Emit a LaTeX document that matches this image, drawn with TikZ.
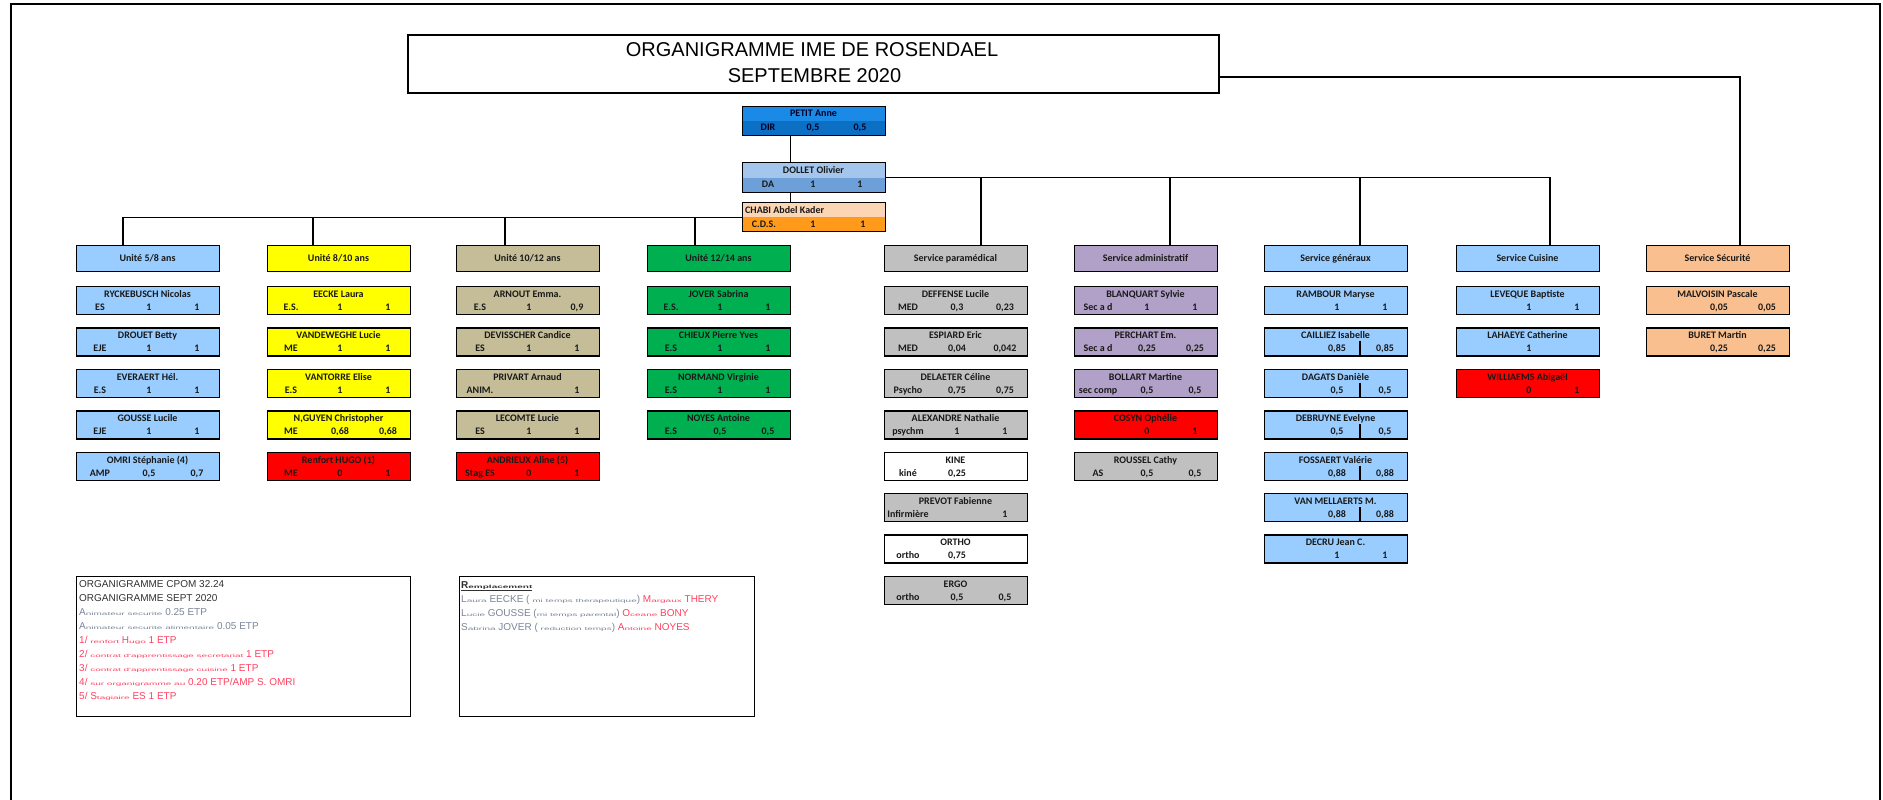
\documentclass[tikz,border=0pt]{standalone}
\usepackage{fontspec}
\usepackage{graphicx}
\setmainfont{Carlito}
\newfontfamily\arialf{Liberation Sans}
\usetikzlibrary{calc}
\definecolor{lblue}{HTML}{99CCFF}
\definecolor{yel}{HTML}{FFFF00}
\definecolor{tanc}{HTML}{C4BD97}
\definecolor{grn}{HTML}{00B050}
\definecolor{gry}{HTML}{C0C0C0}
\definecolor{purp}{HTML}{B1A0C7}
\definecolor{peach}{HTML}{FABF8F}
\definecolor{rd}{HTML}{FF0000}
\definecolor{dirtop}{HTML}{1A8AE6}
\definecolor{dirbot}{HTML}{0B6FC4}
\definecolor{datop}{HTML}{A4C6EC}
\definecolor{dabot}{HTML}{6D9FD8}
\definecolor{cdstop}{HTML}{FCD5B4}
\definecolor{cdsbot}{HTML}{FF9A1A}
\definecolor{notegray}{HTML}{7A8598}
\definecolor{notered}{HTML}{FF4060}
\definecolor{notedark}{HTML}{303030}
\newcommand{\sq}[1]{\scalebox{1}[0.45]{#1}}
\tikzset{
  pb/.style={draw=black, line width=1.3pt, minimum width=143pt, minimum height=28pt, inner sep=0pt, anchor=north west},
  hb/.style={pb, minimum height=26pt},
  txt/.style={font=\bfseries\fontsize{10}{11}\selectfont, inner sep=0pt, text=black!90, anchor=base},
  conn/.style={draw=black, line width=1.3pt},
  note/.style={font=\arialf\fontsize{10}{11}\selectfont, inner sep=0pt, anchor=base west},
  ttl/.style={font=\arialf\fontsize{20}{22}\selectfont, anchor=base, inner sep=0pt},
  twotone/.style n args={2}{path picture={
      \fill[#1] (path picture bounding box.north west) rectangle (path picture bounding box.east);
      \fill[#2] (path picture bounding box.west) rectangle (path picture bounding box.south east);}}
}
\newcommand{\pbox}[8]{%
  \node[pb, fill=#4] (#1) at (#2,{286+41.4*#3}) {};
  \node[txt] (#1n) at ($(#1.north west)+(71.5,11.5)$) {#5};
  \node[txt] (#1f) at ($(#1.north west)+(24,24.5)$) {#6};
  \node[txt] (#1a) at ($(#1.north west)+(73,24.5)$) {#7};
  \node[txt] (#1b) at ($(#1.north west)+(121,24.5)$) {#8};
}
\newcommand{\hdr}[5]{%
  \node[hb, fill=#3] (#1) at (#2,245) {};
  \node[txt] (#1t) at ($(#1.north west)+(71.5,16.5)$) {#4};
  \coordinate (#1in) at ($(#1.north west)+(#5,0)$);
}
\begin{document}
\begin{tikzpicture}[x=1pt,y=-1pt]
\useasboundingbox (0,0) rectangle (1883,800);
% page frame
\draw[line width=1.3pt] (11,800) -- (11,4) -- (1880,4) -- (1880,800);
% title
\node[draw=black, line width=1.5pt, minimum width=811pt, minimum height=58pt, inner sep=0pt] (title) at (813.5,64) {};
\node[ttl] (t1) at (812,57) {ORGANIGRAMME IME DE ROSENDAEL};
\node[ttl] (t2) at (814.5,83) {SEPTEMBRE 2020};
\coordinate (tout) at ($(title.east)+(0,13)$);
% direction
\node[draw=black, line width=1.3pt, minimum width=143pt, minimum height=29pt, inner sep=0pt, anchor=north west, twotone={dirtop}{dirbot}] (petit) at (742,106) {};
\node[txt, text=black!85!blue] (petitn) at ($(petit.north west)+(71.5,10.5)$) {PETIT Anne};
\node[txt, text=black!85!blue] (petitf) at ($(petit.north west)+(26,24.5)$) {DIR};
\node[txt, text=black!85!blue] (petita) at ($(petit.north west)+(71,24.5)$) {0,5};
\node[txt, text=black!85!blue] (petitb) at ($(petit.north west)+(118,24.5)$) {0,5};
\node[draw=black, line width=1.3pt, minimum width=143pt, minimum height=30pt, inner sep=0pt, anchor=north west, twotone={datop}{dabot}] (dollet) at (742,162) {};
\node[txt] (dolletn) at ($(dollet.north west)+(71.5,11)$) {DOLLET Olivier};
\node[txt] (dolletf) at ($(dollet.north west)+(26,25)$) {DA};
\node[txt] (dolleta) at ($(dollet.north west)+(71,25)$) {1};
\node[txt] (dolletb) at ($(dollet.north west)+(118,25)$) {1};
\node[draw=black, line width=1.3pt, minimum width=143pt, minimum height=29pt, inner sep=0pt, anchor=north west, twotone={cdstop}{cdsbot}] (chabi) at (742,202) {};
\node[txt, anchor=base west] (chabin) at ($(chabi.north west)+(3,11)$) {CHABI Abdel Kader};
\node[txt] (chabif) at ($(chabi.north west)+(22,25)$) {C.D.S.};
\node[txt] (chabia) at ($(chabi.north west)+(71,25)$) {1};
\node[txt] (chabib) at ($(chabi.north west)+(121,25)$) {1};
\draw[conn] ([xshift=-24pt]petit.south) -- ([xshift=-24pt]dollet.north);
\draw[conn] ([xshift=-24pt]dollet.south) -- ([xshift=-24pt]chabi.north);
% headers
\hdr{u1}{76}{lblue}{Unité 5/8 ans}{47}
\hdr{u2}{267}{yel}{Unité 8/10 ans}{46}
\hdr{u3}{456}{tanc}{Unité 10/12 ans}{49}
\hdr{u4}{647}{grn}{Unité 12/14 ans}{48}
\hdr{sp}{884}{gry}{Service paramédical}{97}
\hdr{sa}{1074}{purp}{Service administratif}{96}
\hdr{sg}{1264}{lblue}{Service généraux}{96}
\hdr{sc}{1456}{lblue}{Service Cuisine}{94}
\hdr{ss}{1646}{peach}{Service Sécurité}{94}
% connectors
\draw[conn] (u1in) |- (chabi.west);
\draw[conn] (u2in) -- (u2in |- chabi.west);
\draw[conn] (u3in) -- (u3in |- chabi.west);
\draw[conn] (u4in) -- (u4in |- chabi.west);
\draw[conn] (dollet.east) -| (scin);
\draw[conn] (spin) -- (spin |- dollet.east);
\draw[conn] (sain) -- (sain |- dollet.east);
\draw[conn] (sgin) -- (sgin |- dollet.east);
\draw[conn] (tout) -| (ssin);
% column 1
\pbox{a1}{76}{0}{lblue}{RYCKEBUSCH Nicolas}{ES}{1}{1}
\pbox{a2}{76}{1}{lblue}{DROUET Betty}{EJE}{1}{1}
\pbox{a3}{76}{2}{lblue}{EVERAERT Hél.}{E.S}{1}{1}
\pbox{a4}{76}{3}{lblue}{GOUSSE Lucile}{EJE}{1}{1}
\pbox{a5}{76}{4}{lblue}{OMRI Stéphanie (4)}{AMP}{0,5}{0,7}
% column 2
\pbox{b1}{267}{0}{yel}{EECKE Laura}{E.S.}{1}{1}
\pbox{b2}{267}{1}{yel}{VANDEWEGHE Lucie}{ME}{1}{1}
\pbox{b3}{267}{2}{yel}{VANTORRE Elise}{E.S}{1}{1}
\pbox{b4}{267}{3}{yel}{N,GUYEN Christopher}{ME}{0,68}{0,68}
\pbox{b5}{267}{4}{rd}{Renfort HUGO (1)}{ME}{0}{1}
% column 3
\pbox{c1}{456}{0}{tanc}{ARNOUT Emma.}{E.S}{1}{0,9}
\pbox{c2}{456}{1}{tanc}{DEVISSCHER Candice}{ES}{1}{1}
\pbox{c3}{456}{2}{tanc}{PRIVART Arnaud}{ANIM.}{}{1}
\pbox{c4}{456}{3}{tanc}{LECOMTE Lucie}{ES}{1}{1}
\pbox{c5}{456}{4}{rd}{ANDRIEUX Aline (5)}{Stag ES}{0}{1}
% column 4
\pbox{d1}{647}{0}{grn}{JOVER Sabrina}{E.S.}{1}{1}
\pbox{d2}{647}{1}{grn}{CHIEUX Pierre Yves}{E.S}{1}{1}
\pbox{d3}{647}{2}{grn}{NORMAND Virginie}{E.S}{1}{1}
\pbox{d4}{647}{3}{grn}{NOYES Antoine}{E.S}{0,5}{0,5}
% paramedical
\pbox{e1}{884}{0}{gry}{DEFFENSE Lucile}{MED}{0,3}{0,23}
\pbox{e2}{884}{1}{gry}{ESPIARD Eric}{MED}{0,04}{0,042}
\pbox{e3}{884}{2}{gry}{DELAETER Céline}{Psycho}{0,75}{0,75}
\pbox{e4}{884}{3}{gry}{ALEXANDRE Nathalie}{psychm}{1}{1}
\pbox{e5}{884}{4}{white}{KINE}{kiné}{0,25}{}
\pbox{e6}{884}{5}{gry}{PREVOT Fabienne}{Infirmière}{}{1}
\pbox{e7}{884}{6}{white}{ORTHO}{ortho}{0,75}{}
\pbox{e8}{884}{7}{gry}{ERGO}{ortho}{0,5}{0,5}
% administratif
\pbox{f1}{1074}{0}{purp}{BLANQUART Sylvie}{Sec a d}{1}{1}
\pbox{f2}{1074}{1}{purp}{PERCHART Em.}{Sec a d}{0,25}{0,25}
\pbox{f3}{1074}{2}{purp}{BOLLART Martine}{sec comp}{0,5}{0,5}
\pbox{f4}{1074}{3}{rd}{COSYN Ophélie}{}{0}{1}
\pbox{f5}{1074}{4}{gry}{ROUSSEL Cathy}{AS}{0,5}{0,5}
% generaux
\pbox{g1}{1264}{0}{lblue}{RAMBOUR Maryse}{}{1}{1}
\pbox{g2}{1264}{1}{lblue}{CAILLIEZ Isabelle}{}{0,85}{0,85}
\pbox{g3}{1264}{2}{lblue}{DAGATS Danièle}{}{0,5}{0,5}
\pbox{g4}{1264}{3}{lblue}{DEBRUYNE Evelyne}{}{0,5}{0,5}
\pbox{g5}{1264}{4}{lblue}{FOSSAERT Valérie}{}{0,88}{0,88}
\pbox{g6}{1264}{5}{lblue}{VAN MELLAERTS M.}{}{0,88}{0,88}
\pbox{g7}{1264}{6}{lblue}{DECRU Jean C.}{}{1}{1}
\foreach \g in {g2,g3,g4,g5,g6}{
  \draw[line width=1.1pt] ($(\g.north west)+(96,14)$) -- ($(\g.north west)+(96,28)$);
}
% cuisine
\pbox{h1}{1456}{0}{lblue}{LEVEQUE Baptiste}{}{1}{1}
\pbox{h2}{1456}{1}{lblue}{LAHAEYE Catherine}{}{1}{}
\pbox{h3}{1456}{2}{rd}{WILLIAEMS Abigaël}{}{0}{1}
% securite
\pbox{i1}{1646}{0}{peach}{MALVOISIN Pascale}{}{0,05}{0,05}
\pbox{i2}{1646}{1}{peach}{BURET Martin}{}{0,25}{0,25}
% notes
\node[draw=black, line width=1.3pt, minimum width=334pt, minimum height=140pt, inner sep=0pt, anchor=north west] (noteA) at (76,576) {};
\node[note, text=notedark] (nA1) at (79,587) {ORGANIGRAMME CPOM 32.24};
\node[note, text=notedark] (nA2) at (79,601) {ORGANIGRAMME SEPT 2020};
\node[note, text=notegray] (nA3) at (79,615) {A\sq{nimateur securite} 0.25 ETP};
\node[note, text=notegray] (nA4) at (79,629) {A\sq{nimateur securite alimentaire} 0.05 ETP};
\node[note, text=notered] (nA5) at (79,643) {1/ \sq{renfort} H\sq{ugo} 1 ETP};
\node[note, text=notered] (nA6) at (79,657) {2/ \sq{contrat d'apprentissage secretariat} 1 ETP};
\node[note, text=notered] (nA7) at (79,671) {3/ \sq{contrat d'apprentissage cuisine} 1 ETP};
\node[note, text=notered] (nA8) at (79,685) {4/ \sq{sur organigramme au} 0.20 ETP/AMP S. OMRI};
\node[note, text=notered] (nA9) at (79,699) {5/ S\sq{tagiaire} ES 1 ETP};
\node[draw=black, line width=1.3pt, minimum width=295pt, minimum height=140pt, inner sep=0pt, anchor=north west] (noteB) at (459,576) {};
\node[note, text=notedark] (nB0) at (461,588) {\underline{\bfseries R\sq{emplacement}}};
\node[note, text=notegray] (nB1) at (461,602) {L\sq{aura} EECKE ( \sq{mi temps therapeutique}) \textcolor{notered}{M\sq{argaux} THERY}};
\node[note, text=notegray] (nB2) at (461,616) {L\sq{ucie} GOUSSE (\sq{mi temps parental}) \textcolor{notered}{O\sq{ceane} BONY}};
\node[note, text=notegray] (nB3) at (461,630) {S\sq{abrina} JOVER ( \sq{reduction temps}) \textcolor{notered}{A\sq{ntoine} NOYES}};
\end{tikzpicture}
\end{document}
